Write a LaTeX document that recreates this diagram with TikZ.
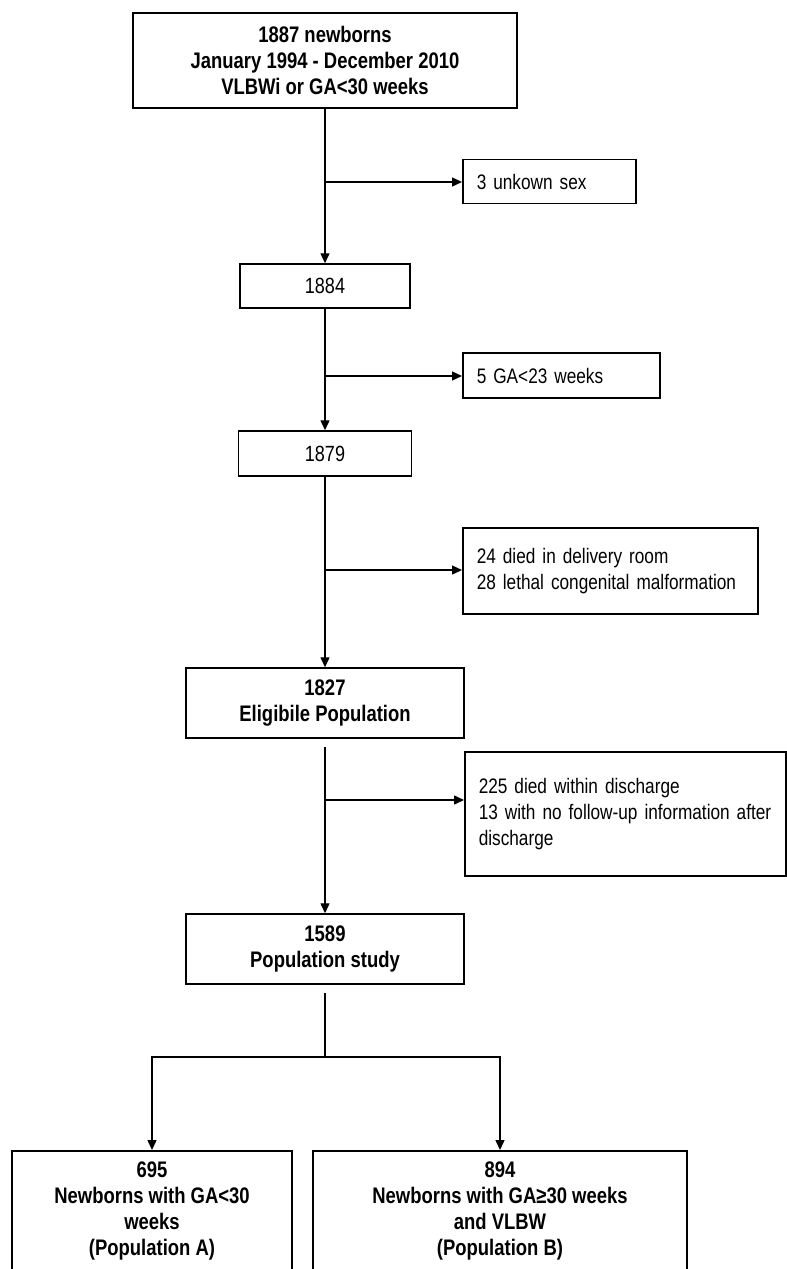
\documentclass[tikz,border=0pt]{standalone}
\usepackage{fontspec}
\setmainfont[FakeStretch=0.82]{Liberation Sans}
\usepackage{tikz}
\usetikzlibrary{arrows.meta,positioning}
\hyphenpenalty=10000
\exhyphenpenalty=10000

\begin{document}
\begin{tikzpicture}[x=1pt, y=-1pt,
    mainbox/.style={rectangle, draw, line width=1.5pt, align=center, inner sep=0pt,
                    font=\fontsize{22.5}{26}\selectfont\bfseries},
    numbox/.style={rectangle, draw, line width=1.5pt, align=center, inner sep=0pt,
                   font=\fontsize{22}{24}\selectfont},
    sidebox/.style={rectangle, draw, line width=1.5pt, anchor=west, align=left,
                    inner xsep=14pt, inner ysep=0pt, font=\fontsize{21}{26}\selectfont},
    arr/.style={-{Triangle[length=10pt,width=9pt]}, line width=1.4pt},
    plain/.style={line width=1.4pt},
  ]
    \clip (0,0) rectangle (787,1269);

    \node[mainbox, minimum width=384pt, minimum height=95pt] (born) at (325,60.5)
      {1887 newborns\\January 1994 - December 2010\\VLBWi or GA<30 weeks};
    \node[numbox, minimum width=170pt, minimum height=44pt] (n1884) at (325,286) {1884};
    \node[numbox, minimum width=173pt, minimum height=45pt] (n1879) at (325,453.5) {1879};
    \node[mainbox, minimum width=278pt, minimum height=70pt] (elig) at (325,703)
      {1827\\Eligibile Population};
    \node[mainbox, minimum width=278pt, minimum height=70pt] (study) at (325,949)
      {1589\\Population study};
    \node[mainbox, minimum width=280pt, minimum height=120pt, anchor=north] (popA) at (152,1150)
      {695\\Newborns with GA<30\\weeks\\(Population A)};
    \node[mainbox, minimum width=374pt, minimum height=120pt, anchor=north] (popB) at (500,1150)
      {894\\Newborns with GA≥30 weeks\\and VLBW\\(Population B)};

    \node[sidebox, text width=145pt, minimum height=44pt] (sex)   at (462,181.5) {3 unkown sex};
    \node[sidebox, text width=169pt, minimum height=45pt] (early) at (462,375.5) {5 GA<23 weeks};
    \node[sidebox, text width=267pt, minimum height=86pt] (room)  at (462,571)
      {24 died in delivery room\\28 lethal congenital malformation};
    \node[sidebox, text width=293pt, minimum height=124pt] (lost) at (464,814)
      {225 died within discharge\\13 with no follow-up information after\\discharge};

    \coordinate (j1) at (325,182);
    \coordinate (j2) at (325,376);
    \coordinate (j3) at (325,570);
    \coordinate (j4) at (325,800);
    \coordinate (split) at (325,1057);

    \draw[arr] (born) -- (n1884);
    \draw[arr] (n1884) -- (n1879);
    \draw[arr] (n1879) -- (elig);
    \draw[arr, shorten <=8pt] (elig) -- (study);
    \draw[plain, shorten <=8pt] (study) -- (split);
    \draw[arr] (split) -| (popA);
    \draw[arr] (split) -| (popB);

    \draw[arr] (j1) -- (j1 -| sex.west);
    \draw[arr] (j2) -- (j2 -| early.west);
    \draw[arr] (j3) -- (j3 -| room.west);
    \draw[arr] (j4) -- (j4 -| lost.west);
\end{tikzpicture}
\end{document}
